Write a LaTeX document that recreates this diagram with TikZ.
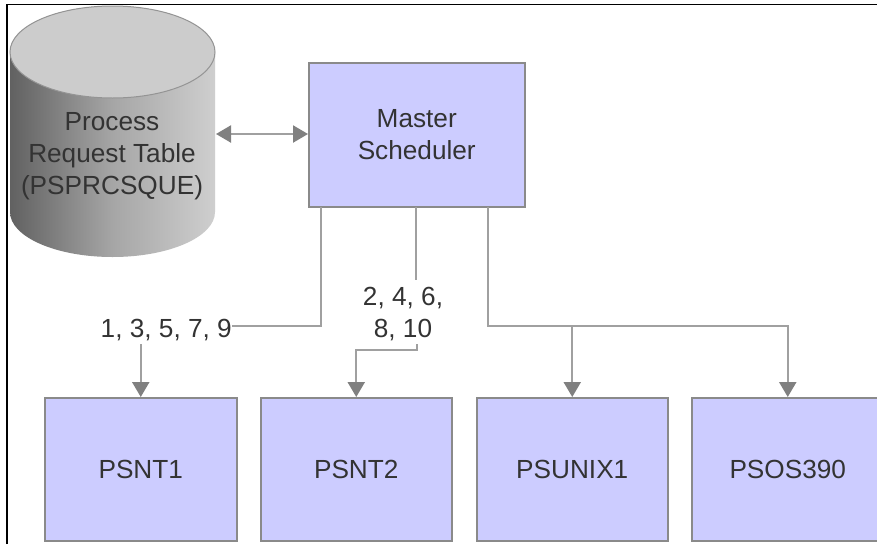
\documentclass[tikz,border=0pt]{standalone}
\usepackage{fontspec}
\setmainfont{Liberation Sans}
\usetikzlibrary{arrows.meta,calc}
\definecolor{boxfill}{HTML}{CCCCFF}
\definecolor{boxline}{HTML}{8A8A8A}
\definecolor{wire}{HTML}{A0A0A0}
\definecolor{tip}{HTML}{808080}
\definecolor{ink}{HTML}{333333}
\tikzset{
  x=1pt,y=-1pt,
  txt/.style={font=\fontsize{26.2}{32}\selectfont,text=ink,align=center,inner sep=0pt},
  blockbox/.style={draw=boxline,line width=1.5pt,fill=boxfill,anchor=north west,inner sep=0pt,txt},
  wireline/.style={draw=wire,line width=2.2pt},
  arrowline/.style={wireline,-{Triangle[width=17pt,length=15pt,color=tip]}},
  bothline/.style={wireline,{Triangle[width=17pt,length=15pt,color=tip]}-{Triangle[width=17pt,length=15pt,color=tip]}}
}
\begin{document}
\begin{tikzpicture}
\useasboundingbox (0,0) rectangle (877,544);
\fill[white] (0,0) rectangle (877,544);
% frame
\draw[black,line width=1.2pt] (7,544) -- (7,4.5) -- (877,4.5);
% cylinder
\shade[left color=black!62,right color=black!19,middle color=black!35]
  (10,52) -- (10,212) arc[start angle=180,end angle=0,x radius=102.5,y radius=45]
  -- (215,52) arc[start angle=0,end angle=-180,x radius=102.5,y radius=46] -- cycle;
\draw[fill=black!20,draw=black!42,line width=1pt] (112.5,52) ellipse[x radius=102.5,y radius=46];
\node[txt] (table) at (112,156) {Process\\Request Table\\(PSPRCSQUE)};
% boxes
\node[blockbox,minimum width=216pt,minimum height=144pt] (master) at (308,62) {Master\\Scheduler};
\node[blockbox,minimum width=192pt,minimum height=143pt] (nt1) at (44,397) {PSNT1};
\node[blockbox,minimum width=191pt,minimum height=143pt] (nt2) at (260,397) {PSNT2};
\node[blockbox,minimum width=191pt,minimum height=143pt] (unix) at (476,397) {PSUNIX1};
\node[blockbox,minimum width=192pt,minimum height=143pt] (os) at (691,397) {PSOS390};
% labels
\node[txt,anchor=east] (odd) at (232,330) {1, 3, 5, 7, 9};
\node[txt] (even) at (403,314) {2, 4, 6,\\8, 10};
% helper points
\coordinate (m1) at (321,207);
\coordinate (m2) at (416,207);
\coordinate (m3) at (488,207);
\coordinate (e1) at (416,280);
\coordinate (e2) at (417,344);
\coordinate (odd1) at (141,345);
% connectors
\draw[bothline] (216,134) coordinate (tblr) -- (308,134) coordinate (msl);
\draw[wireline] (m1) |- (odd.east |- 0,326);
\draw[arrowline] (odd1) -- (odd1 -| nt1.north) -- (nt1.north);
\draw[wireline] (m2) -- (e1);
\draw[arrowline] (e2) -- (417,350) -| (nt2.north);
\draw[arrowline] (m3) -- (488,326) -| (os.north);
\draw[arrowline] (m3) -- (488,326) -| (unix.north);
\end{tikzpicture}
\end{document}
